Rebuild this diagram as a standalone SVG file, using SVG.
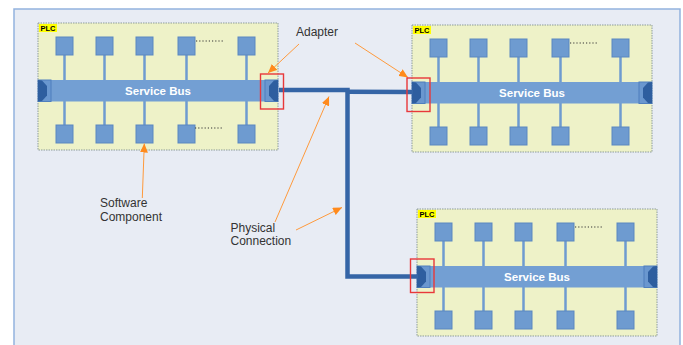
<svg xmlns="http://www.w3.org/2000/svg" xmlns:xlink="http://www.w3.org/1999/xlink" width="683" height="345" viewBox="0 0 683 345">
  <style>
    .panel { fill: #e8ecf4; stroke: #92b2de; stroke-width: 1.5; }
    .plc { fill: #eef2c8; stroke: #8d9c9a; stroke-width: 1; stroke-dasharray: 1.5 1; }
    .tag { fill: #ffff00; }
    .tagtext { font-family: "Liberation Sans", Arial, sans-serif; font-size: 7.5px; font-weight: bold; fill: #000; }
    .comp { fill: #6e9bd0; stroke: #5a87c0; stroke-width: 1; }
    .stem { stroke: #6e9bd0; stroke-width: 2.5; }
    .bus { fill: #739fd3; }
    .busText { font-family: "Liberation Sans", Arial, sans-serif; font-size: 11.5px; font-weight: bold; fill: #ffffff; text-anchor: middle; }
    .cap { fill: #6a97cf; stroke: #4f7fbe; stroke-width: 1; }
    .capMark { fill: #2e5e9f; }
    .dots { stroke: #333; stroke-width: 1.2; stroke-dasharray: 1.2 2; }
    .hilite { fill: none; stroke: #e8383a; stroke-width: 1.4; }
    .link { fill: none; stroke: #3565a6; stroke-width: 4.5; stroke-linejoin: miter; }
    .callout { fill: none; stroke: #ff9a3c; stroke-width: 1; marker-end: url(#tip); }
    .label { font-family: "Liberation Sans", Arial, sans-serif; font-size: 12px; fill: #333333; }
  </style>
  <defs>
    <marker id="tip" markerUnits="userSpaceOnUse" markerWidth="10" markerHeight="8" refX="9" refY="4" orient="auto">
      <path d="M0,0 L9,4 L0,8 Z" fill="#ff8a1c"/>
    </marker>
    <!-- bus end piece whose marked face points left -->
    <g id="capLeft">
      <rect class="cap" x="0" y="0" width="13" height="21.5"/>
      <path class="capMark" d="M0,0 L4,0.5 L9,6 L9,15.5 L4,21 L0,21.5 Z"/>
    </g>
    <!-- bus end piece whose marked face points right -->
    <g id="capRight">
      <rect class="cap" x="0" y="0" width="13" height="21.5"/>
      <path class="capMark" d="M13,0 L9,0.5 L4,6 L4,15.5 L9,21 L13,21.5 Z"/>
    </g>
    <!-- PLC body: box, tag, components on both sides of the service bus -->
    <g id="plcBody">
      <rect class="plc" x="0" y="0" width="240" height="127"/>
      <rect class="tag" x="1" y="1" width="18" height="8"/>
      <text class="tagtext" x="2.5" y="8">PLC</text>
      <line class="stem" x1="26.5" y1="30" x2="26.5" y2="104"/>
      <line class="stem" x1="66.5" y1="30" x2="66.5" y2="104"/>
      <line class="stem" x1="106.5" y1="30" x2="106.5" y2="104"/>
      <line class="stem" x1="148.5" y1="30" x2="148.5" y2="104"/>
      <line class="stem" x1="208.5" y1="30" x2="208.5" y2="104"/>
      <rect class="comp" x="18" y="14" width="17" height="18"/>
      <rect class="comp" x="58" y="14" width="17" height="18"/>
      <rect class="comp" x="98" y="14" width="17" height="18"/>
      <rect class="comp" x="140" y="14" width="17" height="18"/>
      <rect class="comp" x="200" y="14" width="17" height="18"/>
      <rect class="comp" x="18" y="102" width="17" height="18"/>
      <rect class="comp" x="58" y="102" width="17" height="18"/>
      <rect class="comp" x="98" y="102" width="17" height="18"/>
      <rect class="comp" x="140" y="102" width="17" height="18"/>
      <rect class="comp" x="200" y="102" width="17" height="18"/>
      <rect class="bus" x="0" y="57" width="240" height="21.5"/>
      <text class="busText" x="120" y="72">Service Bus</text>
      <line class="dots" x1="158" y1="18" x2="185" y2="18"/>
    </g>
  </defs>

  <rect class="panel" x="14" y="9" width="666" height="345"/>

  <g id="plc1" transform="translate(38,23)">
    <use xlink:href="#plcBody"/>
    <line class="dots" x1="157" y1="105" x2="184" y2="105"/>
    <use xlink:href="#capLeft" x="0" y="57"/>
    <use xlink:href="#capRight" x="227" y="57"/>
  </g>

  <g id="plc2" transform="translate(412,25)">
    <use xlink:href="#plcBody"/>
    <use xlink:href="#capLeft" x="0" y="57"/>
    <use xlink:href="#capRight" x="227" y="57"/>
  </g>

  <g id="plc3" transform="translate(417,209)">
    <use xlink:href="#plcBody"/>
    <use xlink:href="#capLeft" x="0" y="57"/>
    <use xlink:href="#capRight" x="227" y="57"/>
  </g>

  <g id="connectors">
    <path class="link" d="M279,90 L347.5,90 L347.5,276.5 L418,276.5"/>
    <path class="link" d="M346,91.8 L413,92"/>
    <line class="callout" x1="299" y1="44" x2="268" y2="73"/>
    <line class="callout" x1="355" y1="43" x2="408" y2="77.5"/>
    <line class="callout" x1="142.3" y1="198" x2="144.3" y2="143.5"/>
    <line class="callout" x1="275" y1="222" x2="329" y2="96.5"/>
    <line class="callout" x1="296" y1="230" x2="342" y2="207.5"/>
  </g>

  <g id="adapters">
    <rect class="hilite" x="260.5" y="74" width="23" height="35"/>
    <rect class="hilite" x="407" y="78" width="23" height="33.5"/>
    <rect class="hilite" x="410.5" y="259" width="23.5" height="33.5"/>
  </g>

  <g id="labels">
    <text class="label" x="296" y="35.5">Adapter</text>
    <text class="label" x="100" y="206.5">Software</text>
    <text class="label" x="100" y="220.5">Component</text>
    <text class="label" x="230.5" y="231.5">Physical</text>
    <text class="label" x="230.5" y="245">Connection</text>
  </g>
</svg>
